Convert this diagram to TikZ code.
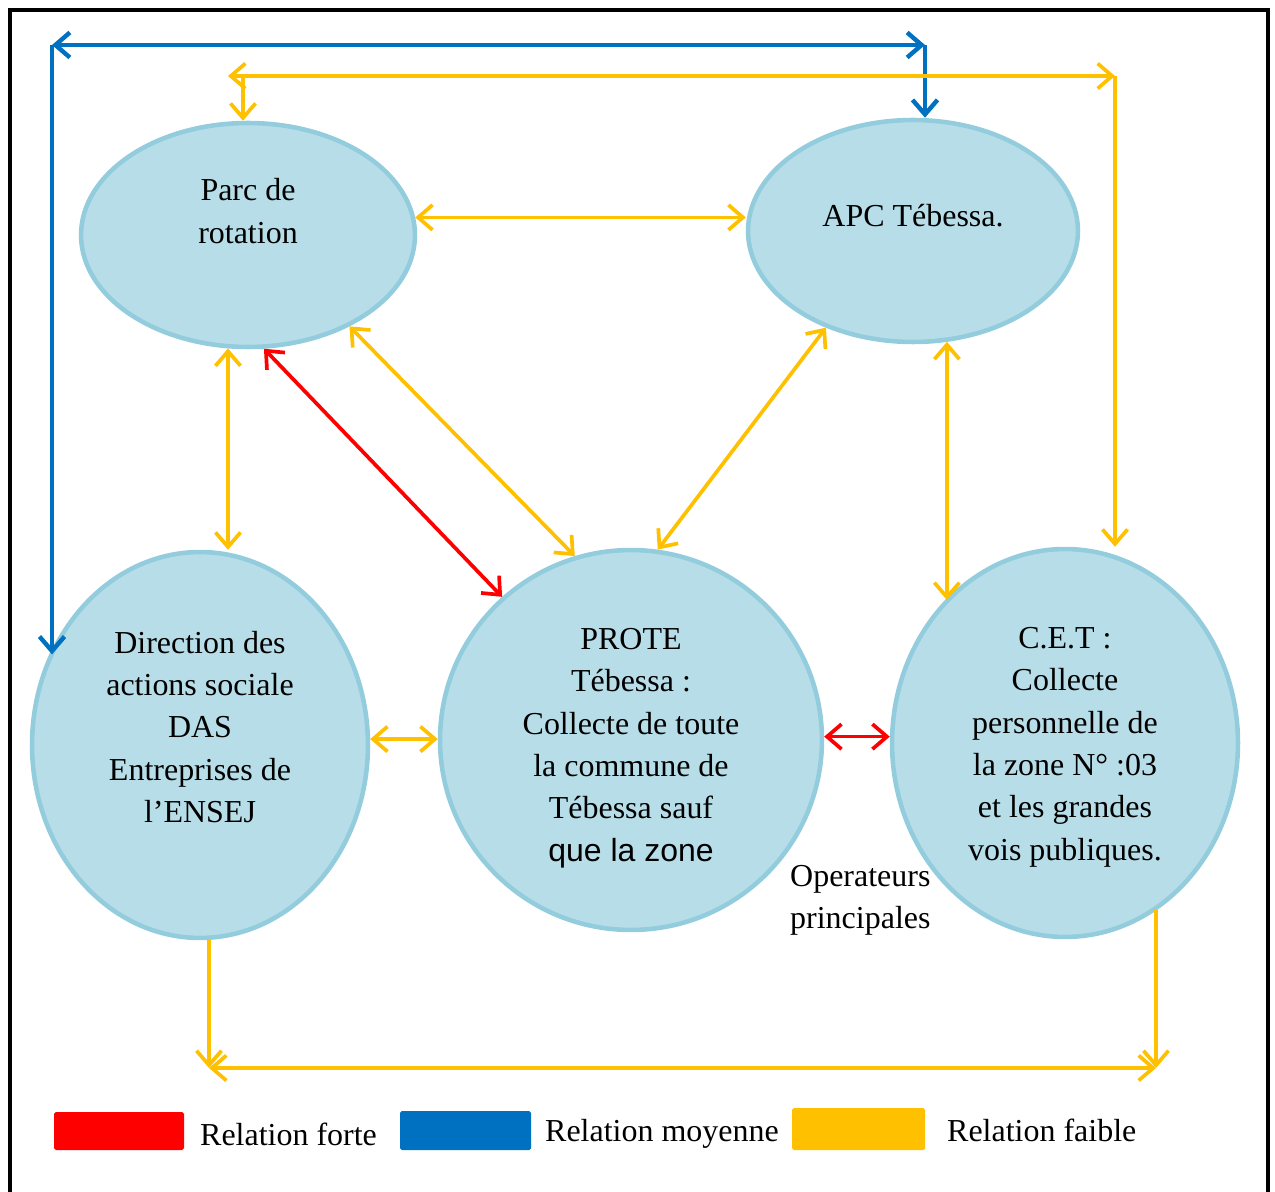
\documentclass[tikz,border=0pt]{standalone}
\usepackage{fontspec}
\setmainfont{Liberation Serif}
\newfontfamily\arialfont{Liberation Sans}
\usetikzlibrary{arrows.meta, shapes.geometric, positioning, calc}
\definecolor{bleuclair}{HTML}{B7DEE8}
\definecolor{bleubord}{HTML}{93CDDD}
\definecolor{rouge}{HTML}{FF0000}
\definecolor{bleu}{HTML}{0070C0}
\definecolor{jaune}{HTML}{FFC000}

\begin{document}
\begin{tikzpicture}[x=0.02cm, y=-0.02cm,
  >={Straight Barb[length=2.9mm,width=5mm]},
  bulle/.style={ellipse, draw=bleubord, fill=bleuclair, line width=2.6pt, inner sep=0pt},
  txt/.style={align=center, font=\fontsize{18.2}{24.1}\selectfont},
  forte/.style={draw=rouge, line width=2.1pt},
  moyenne/.style={draw=bleu, line width=2.5pt},
  faible/.style={draw=jaune, line width=2.1pt}]
  \useasboundingbox (0,0) rectangle (1275,1192);
  \draw[line width=2.4pt] (10,1210) -- (10,10) -- (1268,10) -- (1268,1210);

  % les acteurs
  \node[bulle, minimum width=6.68cm, minimum height=4.48cm] (parc) at (248,235) {};
  \node[bulle, minimum width=6.6cm, minimum height=4.44cm] (apc) at (913,231) {};
  \node[bulle, minimum width=6.72cm, minimum height=7.72cm] (das) at (200,745) {};
  \node[bulle, minimum width=7.64cm, minimum height=7.6cm] (prote) at (631,740) {};
  \node[bulle, minimum width=6.92cm, minimum height=7.76cm] (cet) at (1065,743) {};

  \node[txt] (parct) at (248,211) {Parc de\\rotation};
  \node[txt] (apct) at (913,216) {APC Tébessa.};
  \node[txt] (dast) at (200,727) {Direction des\\actions sociale\\DAS\\Entreprises de\\l’ENSEJ};
  \node[txt] (protet) at (631,748) {PROTE\\Tébessa :\\Collecte de toute\\la commune de\\Tébessa sauf\\{\arialfont que la zone}};
  \node[txt] (cett) at (1065,747) {C.E.T :\\Collecte\\personnelle de\\la zone N° :03\\et les grandes\\vois publiques.};
  \node[txt, align=left, anchor=west] (oper) at (784,900) {Operateurs\\principales};

  % relations fortes
  \draw[forte, <->] (parc.278) -- (prote.132.5);
  \draw[forte, <->] (prote.1.2) -- (prote.1.2 -| cet.west);

  % relations moyennes
  \coordinate (bhg) at (52,45);
  \coordinate (bhd) at (925,45);
  \draw[moyenne, <->] (bhg) -- (bhd);
  \draw[moyenne, ->] (bhg) -- (bhg |- das.149);
  \draw[moyenne, ->] (bhd) -- (bhd |- apc.north);

  % relations faibles
  \coordinate (jhg) at (228,76);
  \coordinate (jhd) at (1115,76);
  \coordinate (jpk) at (243,76);
  \draw[faible, <->] (jhg) -- (jhd);
  \draw[faible, ->] (jpk) -- (jpk |- parc.north);
  \draw[faible, ->] (jhd) -- (jhd |- cet.north);
  \draw[faible, <->] (parc.6.8) -- (parc.6.8 -| apc.west);
  \draw[faible, <->] (parc.260) -- (parc.260 |- das.north);
  \draw[faible, <->] (parc.318.8) -- (prote.107.4);
  \draw[faible, <->] (apc.228.2) -- (prote.82.9);
  \draw[faible, <->] (apc.287) -- (apc.287 |- cet.130.2);
  \draw[faible, <->] (das.2.7) -- (das.2.7 -| prote.west);
  \coordinate (jbg) at (209,1068);
  \coordinate (jbd) at (1156,1068);
  \draw[faible, ->] (jbg |- das.south) -- (jbg);
  \draw[faible, ->] (jbd |- cet.299) -- (jbd);
  \draw[faible, <->] (jbg) -- (jbd);

  % legende
  \fill[rouge, rounded corners=1pt] (54,1112) rectangle (184,1150);
  \node[txt, anchor=west] (lforte) at (194,1134) {Relation forte};
  \fill[bleu, rounded corners=1pt] (400,1111) rectangle (531,1150);
  \node[txt, anchor=west] (lmoyenne) at (539,1134) {Relation moyenne};
  \fill[jaune, rounded corners=1pt] (792,1108) rectangle (925,1150);
  \node[txt, anchor=west] (lfaible) at (941,1130) {Relation faible};
\end{tikzpicture}
\end{document}
